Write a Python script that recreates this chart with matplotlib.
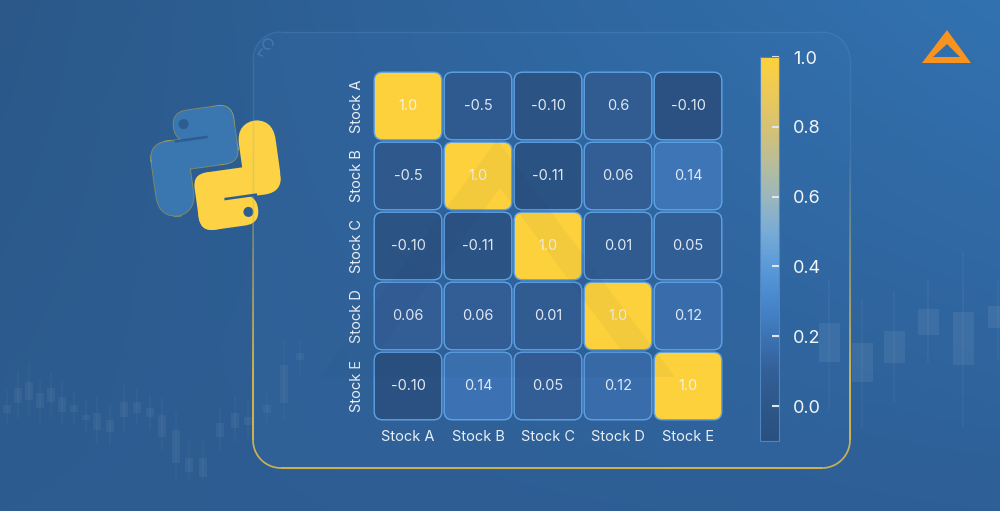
import numpy as np
import matplotlib
matplotlib.use("Agg")
import matplotlib.pyplot as plt
import matplotlib.cm as cm
from matplotlib.colors import LinearSegmentedColormap, Normalize, to_rgb
from matplotlib.patches import FancyBboxPatch, Circle, PathPatch
from matplotlib.path import Path
from matplotlib.collections import LineCollection
from matplotlib.transforms import Affine2D

plt.rcParams["font.family"] = ["Inter", "DejaVu Sans"]

# data
stocks = ["Stock A", "Stock B", "Stock C", "Stock D", "Stock E"]
corr_labels = [
    ["1.0", "-0.5", "-0.10", "0.6", "-0.10"],
    ["-0.5", "1.0", "-0.11", "0.06", "0.14"],
    ["-0.10", "-0.11", "1.0", "0.01", "0.05"],
    ["0.06", "0.06", "0.01", "1.0", "0.12"],
    ["-0.10", "0.14", "0.05", "0.12", "1.0"],
]
# colour actually shown in each cell (read off the picture, not always the label)
cell_shade = np.array([
    [1.00, 0.04, -0.05, 0.06, -0.08],
    [0.03, 1.00, -0.07, 0.08, 0.21],
    [-0.05, -0.05, 1.00, 0.05, 0.09],
    [0.08, 0.08, 0.06, 1.00, 0.17],
    [-0.08, 0.20, 0.08, 0.17, 1.00],
])
cbar_ticks = [0.0, 0.2, 0.4, 0.6, 0.8, 1.0]
cbar_labels = ["0.0", "0.2", "0.4", "0.6", "0.8", "1.0"]

# background candlesticks (price units)
left_x = [7, 18, 29, 40, 51, 62, 74, 86, 97, 110, 124, 137, 150, 162, 176, 189, 203, 220, 235, 248, 267, 284, 300]
left_open = [75, 92, 98, 87, 92, 83, 75, 65, 67, 60, 78, 78, 72, 65, 50, 22, 22, 57, 67, 63, 75, 115, 127]
left_close = [67, 77, 80, 72, 78, 68, 68, 60, 50, 48, 63, 67, 63, 43, 17, 8, 3, 43, 52, 55, 67, 77, 120]
left_high = [90, 110, 118, 100, 108, 100, 88, 80, 85, 75, 95, 92, 85, 82, 68, 40, 40, 72, 85, 78, 90, 140, 140]
left_low = [55, 62, 65, 58, 62, 55, 55, 48, 35, 35, 48, 55, 50, 30, 0, 0, 0, 30, 38, 42, 55, 60, 105]

right_x = [29, 62, 94, 128, 163, 198]
right_open = [117, 97, 109, 131, 128, 134]
right_close = [78, 58, 77, 105, 75, 112]
right_high = [160, 140, 148, 160, 189, 160]
right_low = [30, 13, 38, 76, 13, 80]

cmap = LinearSegmentedColormap.from_list("corr", [
    (0.000, "#29507f"), (0.091, "#2d5789"), (0.182, "#335f98"),
    (0.273, "#3c73b4"), (0.364, "#4787cc"), (0.455, "#5a9ad8"),
    (0.545, "#78abd6"), (0.636, "#9ab7bc"), (0.727, "#b9bd98"),
    (0.818, "#d6c273"), (0.909, "#ecc957"), (1.000, "#fdd13b"),
])
norm = Normalize(vmin=-0.1, vmax=1.0)

W, H = 1000, 511
fig = plt.figure(figsize=(10, 5.11), dpi=100)

# background gradient
bg = fig.add_axes([0, 0, 1, 1], zorder=0)
yy, xx = np.mgrid[0:1:H * 1j, 0:1:W * 1j]
tl, tr = np.array(to_rgb("#2b5889")), np.array(to_rgb("#3272b1"))
bl, br = np.array(to_rgb("#2d5c91")), np.array(to_rgb("#2e5f96"))
img = (tl * ((1 - xx) * (1 - yy))[..., None] + tr * (xx * (1 - yy))[..., None]
       + bl * ((1 - xx) * yy)[..., None] + br * (xx * yy)[..., None])
bg.imshow(img, extent=(0, W, H, 0), aspect="auto")
bg.set_xlim(0, W)
bg.set_ylim(H, 0)
bg.axis("off")


def draw_candles(ax, xs, o, c, hi, lo, width, alpha):
    for x, a, b, h, l in zip(xs, o, c, hi, lo):
        ax.plot([x, x], [l, h], color="white", alpha=alpha * 0.6, lw=1.2, solid_capstyle="butt")
        ax.bar(x, abs(a - b), bottom=min(a, b), width=width, color="white", alpha=alpha, lw=0)


cl = fig.add_axes([0, 1 - 480 / H, 0.31, 140 / H], zorder=0.5)
cl.set_xlim(0, 310)
cl.set_ylim(0, 140)
draw_candles(cl, left_x, left_open, left_close, left_high, left_low, 8, 0.05)
cl.axis("off")

cr = fig.add_axes([0.8, 1 - 440 / H, 0.2, 200 / H], zorder=0.5)
cr.set_xlim(0, 200)
cr.set_ylim(0, 200)
draw_candles(cr, right_x, right_open, right_close, right_high, right_low, 21, 0.07)
cr.axis("off")

# overlay: panel, logos
ov = fig.add_axes([0, 0, 1, 1], zorder=1)
ov.set_xlim(0, W)
ov.set_ylim(H, 0)
ov.axis("off")

px0, py0, px1, py1, pr = 253, 32, 850, 468, 28
ov.add_patch(FancyBboxPatch((px0, py0), px1 - px0, py1 - py0,
                            boxstyle=f"round,pad=0,rounding_size={pr}",
                            fc="#4a8ad0", alpha=0.07, ec="none"))


def rounded_rect(x0, y0, x1, y1, r, n=30):
    pts = []
    corners = [(x1 - r, y0 + r, -90, 0), (x1 - r, y1 - r, 0, 90),
               (x0 + r, y1 - r, 90, 180), (x0 + r, y0 + r, 180, 270)]
    for cx, cy, a0, a1 in corners:
        t = np.radians(np.linspace(a0, a1, n))
        pts += list(zip(cx + r * np.cos(t), cy + r * np.sin(t)))
    pts.append(pts[0])
    return np.array(pts)


pts = rounded_rect(px0, py0, px1, py1, pr)
dense = []
for p, q in zip(pts[:-1], pts[1:]):
    k = max(2, int(np.hypot(*(q - p)) / 4))
    for s in np.linspace(0, 1, k, endpoint=False):
        dense.append(p + s * (q - p))
dense.append(pts[-1])
dense = np.array(dense)
segs = np.stack([dense[:-1], dense[1:]], axis=1)
ymid = segs[:, :, 1].mean(axis=1)
ov.add_collection(LineCollection(segs, colors="#6ea4dc", alpha=0.22, lw=1.0))
ya = np.clip((ymid - 150) / 230, 0, 1)
ycol = np.zeros((len(segs), 4))
ycol[:, :3] = to_rgb("#f4c63a")
ycol[:, 3] = ya * 0.95
ov.add_collection(LineCollection(segs, colors=ycol, lw=1.2))

# small curly arrow at the panel's top-left corner
t = np.linspace(0, 2 * np.pi * 0.85, 60)
ov.plot(268 + 5 * np.cos(t + 1.2), 44 + 5 * np.sin(t + 1.2), color="#6ea4dc", alpha=0.35, lw=1)
ov.plot([262, 258, 262], [49, 54, 56], color="#6ea4dc", alpha=0.35, lw=1)

# python logo
tf = Affine2D().rotate_deg(-8).translate(216, 168) + ov.transData
blue_parts = [(-36, -61, 60, 30, 15), (-5, -61, 29, 58, 14), (-63, -33, 87, 30, 18), (-63, -33, 37, 75, 22)]
# thin outline under the fills, so only the outer edge shows
for x, y, w, h, r in blue_parts:
    ov.add_patch(FancyBboxPatch((x, y), w, h, boxstyle=f"round,pad=0,rounding_size={r}",
                                fc="none", ec="#c9b54a", lw=1.4, alpha=0.5, transform=tf))
for x, y, w, h, r in blue_parts:
    ov.add_patch(FancyBboxPatch((x, y), w, h, boxstyle=f"round,pad=0,rounding_size={r}",
                                fc="#3a76b0", ec="none", transform=tf))
    ov.add_patch(FancyBboxPatch((-x - w, -y - h), w, h, boxstyle=f"round,pad=0,rounding_size={r}",
                                fc="#fdd245", ec="none", transform=tf))
ov.plot([-37, -4], [-32, -32], color="#2d5c90", lw=1.8, transform=tf, solid_capstyle="butt")
ov.plot([4, 37], [32, 32], color="#2d5c90", lw=1.8, transform=tf, solid_capstyle="butt")
ov.add_patch(Circle((-26, -48), 5, fc="#2d5c90", ec="none", transform=tf))
ov.add_patch(Circle((26, 48), 5, fc="#2d5c90", ec="none", transform=tf))

# orange logo
verts = [(947, 30), (922, 63), (971, 63), (947, 30),
         (947, 44), (960, 57), (933, 57), (947, 44)]
codes = [Path.MOVETO, Path.LINETO, Path.LINETO, Path.CLOSEPOLY] * 2
ov.add_patch(PathPatch(Path(verts, codes), fc="#f7931e", ec="none"))

# heatmap
ax = fig.add_axes([373 / W, 1 - 421 / H, 350 / W, 350 / H], zorder=2)
ax.set_xlim(-0.5, 4.5)
ax.set_ylim(4.5, -0.5)
ax.patch.set_alpha(0)
g, rr = 1.2 / 70, 0.12
for i in range(5):
    for j in range(5):
        ax.add_patch(FancyBboxPatch((j - 0.5 + g, i - 0.5 + g), 1 - 2 * g, 1 - 2 * g,
                                    boxstyle=f"round,pad=0,rounding_size={rr}",
                                    fc=cmap(norm(cell_shade[i, j])), ec="#5fa3e6", lw=1.0))
        ax.text(j, i, corr_labels[i][j], ha="center", va="center", fontsize=10.5,
                color="#f4f1e6" if cell_shade[i, j] > 0.5 else "#dfe8f2")
ax.set_xticks(range(5), stocks)
ax.set_yticks(range(5), stocks)
ax.tick_params(length=0, labelsize=10.5, labelcolor="#e8eef6", pad=6.5)
for lab in ax.get_yticklabels():
    lab.set_rotation(90)
    lab.set_va("center")
for s in ax.spines.values():
    s.set_visible(False)

# faint triangle watermark over the heatmap
wm = fig.add_axes([0, 0, 1, 1], zorder=3)
wm.set_xlim(0, W)
wm.set_ylim(H, 0)
wm.axis("off")
wverts = [(497, 140), (320, 377), (675, 377), (497, 140),
          (500, 188), (621, 350), (379, 350), (500, 188)]
wm.add_patch(PathPatch(Path(wverts, codes), fc="#1b3556", alpha=0.045, ec="none"))

# colorbar
cax = fig.add_axes([760 / W, 1 - 441 / H, 19 / W, 384 / H], zorder=2)
sm = cm.ScalarMappable(norm=norm, cmap=cmap)
cb = fig.colorbar(sm, cax=cax, ticks=cbar_ticks)
cb.set_ticklabels(cbar_labels)
cb.ax.tick_params(direction="in", length=5, width=1.5, color="#dfe6ee",
                  labelsize=13, labelcolor="#f2f5f9", pad=10)
cb.outline.set_edgecolor("#4f86bf")
cb.outline.set_linewidth(0.8)

fig.savefig("out.png", dpi=100)
